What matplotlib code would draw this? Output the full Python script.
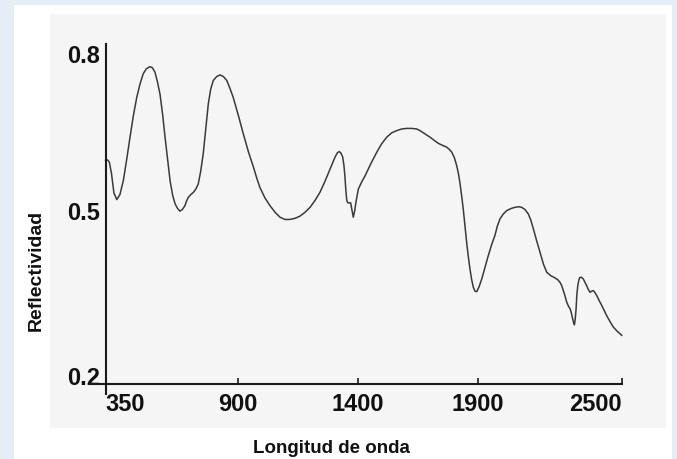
import matplotlib
matplotlib.use('Agg')
import matplotlib.pyplot as plt
from matplotlib.patches import Rectangle

# Spectrum
wavelength = [350, 358, 366, 375, 385, 397, 410, 424, 438, 452, 466, 480, 494, 507, 520, 535,
              545, 556, 566, 577, 588, 598, 609, 619, 630, 640, 650, 660, 670, 681, 688, 695,
              705, 716, 726, 736, 746, 757, 768, 778, 788, 799, 813, 827, 841, 855, 868, 882,
              903, 924, 945, 966, 980, 993, 1014, 1035, 1056, 1077, 1097, 1118, 1139, 1160,
              1181, 1202, 1222, 1243, 1264, 1285, 1296, 1306, 1316, 1324, 1331, 1338, 1343,
              1347, 1351, 1355, 1360, 1364, 1371, 1376, 1382, 1388, 1393, 1403, 1417, 1431,
              1455, 1480, 1500, 1521, 1542, 1563, 1584, 1604, 1625, 1646, 1660, 1681, 1702,
              1720, 1736, 1755, 1771, 1782, 1792, 1803, 1813, 1820, 1826, 1833, 1840, 1847,
              1854, 1861, 1868, 1875, 1882, 1889, 1896, 1906, 1917, 1930, 1944, 1958, 1972,
              1982, 1993, 2007, 2021, 2040, 2056, 2070, 2083, 2097, 2111, 2122, 2132, 2146,
              2160, 2174, 2188, 2205, 2222, 2233, 2243, 2250, 2257, 2264, 2271, 2278, 2285,
              2290, 2294, 2299, 2303, 2306, 2310, 2313, 2317, 2322, 2326, 2333, 2340, 2347,
              2354, 2361, 2368, 2375, 2382, 2389, 2396, 2406, 2417, 2427, 2437, 2451, 2465,
              2482, 2500]
reflectance = [0.589, 0.590, 0.586, 0.565, 0.530, 0.518, 0.527, 0.552, 0.590, 0.631, 0.670,
               0.703, 0.728, 0.746, 0.755, 0.759, 0.757, 0.749, 0.732, 0.709, 0.672, 0.631,
               0.590, 0.552, 0.525, 0.510, 0.502, 0.497, 0.500, 0.507, 0.516, 0.522, 0.527,
               0.531, 0.537, 0.546, 0.568, 0.601, 0.648, 0.691, 0.718, 0.734, 0.741, 0.744,
               0.741, 0.734, 0.720, 0.703, 0.671, 0.637, 0.605, 0.577, 0.557, 0.540, 0.521,
               0.507, 0.495, 0.486, 0.482, 0.482, 0.484, 0.488, 0.495, 0.504, 0.516, 0.531,
               0.551, 0.573, 0.585, 0.595, 0.603, 0.605, 0.602, 0.595, 0.580, 0.561, 0.535,
               0.516, 0.512, 0.512, 0.512, 0.500, 0.486, 0.498, 0.513, 0.537, 0.550, 0.561,
               0.583, 0.604, 0.619, 0.631, 0.639, 0.643, 0.646, 0.647, 0.647, 0.646, 0.643,
               0.637, 0.631, 0.625, 0.620, 0.616, 0.613, 0.609, 0.604, 0.594, 0.579, 0.565,
               0.549, 0.526, 0.501, 0.471, 0.441, 0.415, 0.392, 0.373, 0.359, 0.352, 0.351,
               0.360, 0.374, 0.394, 0.416, 0.436, 0.453, 0.470, 0.483, 0.492, 0.498, 0.502,
               0.504, 0.505, 0.504, 0.500, 0.492, 0.480, 0.465, 0.443, 0.422, 0.401, 0.386,
               0.380, 0.376, 0.373, 0.368, 0.362, 0.353, 0.343, 0.332, 0.325, 0.320, 0.313,
               0.305, 0.296, 0.291, 0.300, 0.320, 0.345, 0.362, 0.373, 0.377, 0.377, 0.374,
               0.368, 0.362, 0.355, 0.350, 0.352, 0.353, 0.349, 0.344, 0.335, 0.326, 0.317,
               0.308, 0.297, 0.287, 0.279, 0.272]

x_ticks = [350, 900, 1400, 1900, 2500]
y_ticks = [0.2, 0.5, 0.8]
y_tick_labels = ['0.2', '0.5', '0.8']

font = 'Liberation Sans'

fig = plt.figure(figsize=(6.77, 4.60), dpi=100, facecolor='#e5edf6')
fig.patches.append(Rectangle((14/677, 0), 658/677, 454/460, transform=fig.transFigure,
                             facecolor='white', edgecolor='none', zorder=-2))
fig.patches.append(Rectangle((50/677, 31/460), 616/677, 414/460, transform=fig.transFigure,
                             facecolor='#f5f5f5', edgecolor='none', zorder=-1))

ax = fig.add_axes([90/677, 65/460, 535/677, 350/460])
ax.patch.set_visible(False)
ax.plot(wavelength, reflectance, color='#3a3a3a', lw=1.1, solid_joinstyle='round')

ax.set_xlim(285.4, 2513.7)
ax.set_ylim(0.1656, 0.8)

for s in ['top', 'right']:
    ax.spines[s].set_visible(False)
ax.spines['left'].set_position(('data', 350))
ax.spines['left'].set_bounds(0.1656, 0.8)
ax.spines['bottom'].set_position(('data', 0.1837))
ax.spines['bottom'].set_bounds(285.4, 2500)
for s in ['left', 'bottom']:
    ax.spines[s].set_linewidth(1.5)
    ax.spines[s].set_color('#1a1a1a')

ax.set_xticks(x_ticks)
ax.set_xticklabels([str(v) for v in x_ticks])
ax.set_yticks(y_ticks)
ax.set_yticklabels(y_tick_labels)
ax.set_yticks([0.5, 0.8], minor=True)
ax.tick_params(axis='x', direction='in', length=4.5, width=1.2, pad=6, color='#1a1a1a')
ax.tick_params(axis='y', which='major', length=0, pad=4)
ax.tick_params(axis='y', which='minor', direction='in', length=4, width=1.2, color='#1a1a1a')

for lab in ax.get_xticklabels() + ax.get_yticklabels():
    lab.set_fontfamily(font)
    lab.set_fontweight('bold')
    lab.set_fontsize(17)
    lab.set_color('#111111')
ax.get_xticklabels()[0].set_ha('left')
ax.get_xticklabels()[-1].set_ha('right')
ax.get_yticklabels()[-1].set_va('top')

fig.text(36/677, 1 - 270/460, 'Reflectividad', rotation=90, ha='center', va='center',
         fontfamily=font, fontweight='bold', fontsize=14, color='#111111')
fig.text(331/677, 1 - 449/460, 'Longitud de onda', ha='center', va='center',
         fontfamily=font, fontweight='bold', fontsize=13.5, color='#111111')

fig.savefig('out.png', dpi=100, facecolor=fig.get_facecolor())
